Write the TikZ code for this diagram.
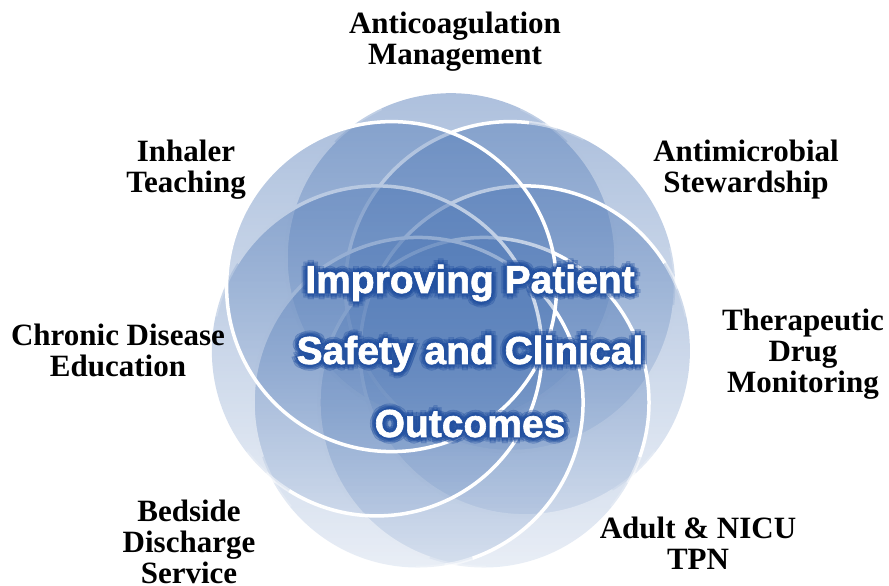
\documentclass[tikz,border=0pt]{standalone}
\usepackage{fontspec}
\setmainfont{Liberation Serif}
\newfontfamily\centrefont[FakeBold=1.6]{Liberation Sans}
\usetikzlibrary{calc,fadings}

\definecolor{ringblue}{RGB}{84,124,184}
\definecolor{glowblue}{RGB}{34,80,160}
\tikzfading[name=ringfade, top color=transparent!52, middle color=transparent!81, bottom color=transparent!87]

\tikzset{
	ring/.style={fill=ringblue, path fading=ringfade},
	ringline/.style={draw=white, line width=3.5pt},
	topic/.style={font=\bfseries\fontsize{31}{31}\selectfont, align=center, inner sep=0pt, anchor=north},
	centre/.style={font=\centrefont\bfseries\fontsize{39}{39}\selectfont, inner sep=0pt, anchor=base},
}

\begin{document}
\begin{tikzpicture}[x=1pt,y=1pt]
		\useasboundingbox (0,0) rectangle (889,586);
		
		\coordinate (mid) at (451,252);
		\foreach \i in {1,...,7}{
			\pgfmathsetmacro\ang{90-(\i-1)*360/7}
			\coordinate (c\i) at ($(mid)+(\ang:76)$);
		}
		
		% the seven rings, first one at the top, then clockwise
		\foreach \i in {1,...,7}{
			\pgfmathsetmacro\ang{90-(\i-1)*360/7}
			\fill[ring] (c\i) circle[radius=165];
			\ifnum\i<7
				\draw[ringline] (c\i) ++(\ang+45:165) arc[start angle=\ang+45, end angle=\ang+315, radius=165];
				% outer side fades out
				\foreach \s/\op in {10/0.5,20/0.2}{
					\draw[ringline, draw opacity=\op] (c\i) ++(\ang+45-\s:165) arc[start angle=\ang+45-\s, end angle=\ang+55-\s, radius=165];
					\draw[ringline, draw opacity=\op] (c\i) ++(\ang+305+\s:165) arc[start angle=\ang+305+\s, end angle=\ang+315+\s, radius=165];
				}
			\else
				\draw[ringline] (c\i) circle[radius=165];
			\fi
		}
		
		% centre text with its glow
		\foreach \txt/\yy [count=\n] in {Improving Patient/293, Safety and Clinical/222, Outcomes/149}{
			\foreach \r in {2,4,6}{
				\foreach \a in {0,45,...,315}{
					\node[centre, text=glowblue, text opacity=0.28] at ([shift={(\a:\r)}]470,\yy) {\txt};
				}
			}
			\node[centre, text=white] (line\n) at (470,\yy) {\txt};
		}
		
		\node[topic] (anticoag) at (455,574) {Anticoagulation\\Management};
		\node[topic] (antimicro) at (746,446) {Antimicrobial\\Stewardship};
		\node[topic] (therapeutic) at (803,277) {Therapeutic\\Drug\\Monitoring};
		\node[topic] (tpn) at (698,69) {Adult \& NICU\\TPN};
		\node[topic] (bedside) at (189,86) {Bedside\\Discharge\\Service};
		\node[topic] (chronic) at (118,262) {Chronic Disease\\Education};
		\node[topic] (inhaler) at (186,446) {Inhaler\\Teaching};
		
	\end{tikzpicture}
\end{document}
